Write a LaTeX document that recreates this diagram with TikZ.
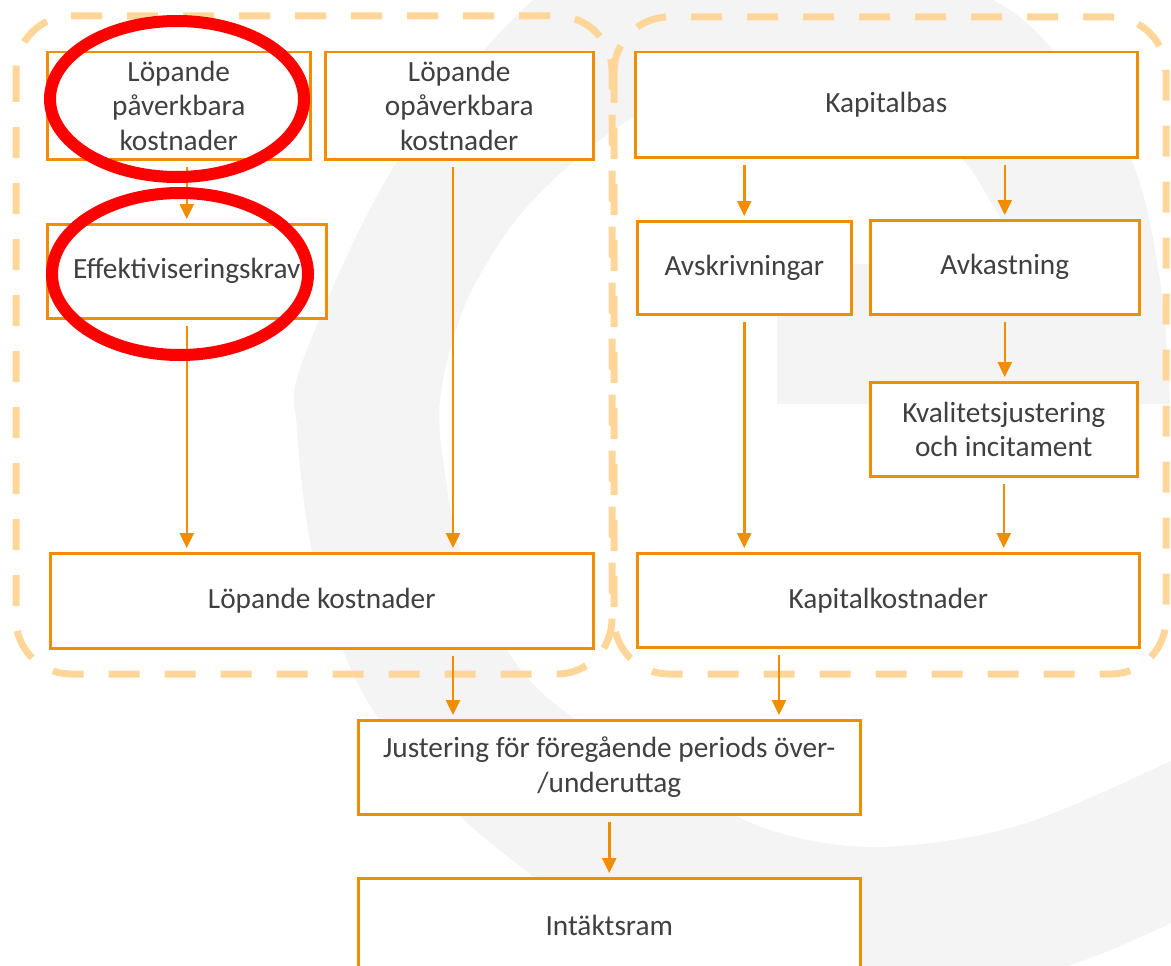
\documentclass[tikz,border=0pt]{standalone}
\usepackage{fontspec}
\setmainfont{Carlito}
\usetikzlibrary{arrows.meta,calc}
\definecolor{boxorange}{HTML}{F28C00}
\definecolor{dashorange}{HTML}{FFD699}
\definecolor{textgrey}{HTML}{404040}
\definecolor{markgrey}{HTML}{F4F4F4}

\begin{document}
\begin{tikzpicture}[x=1pt,y=-1pt,
  box/.style={draw=boxorange,line width=2.5pt,fill=white,text=textgrey,
    font=\fontsize{29.3}{34.5}\selectfont,align=center,anchor=north west,inner sep=1pt},
  flow/.style={draw=boxorange,line width=2.5pt,-{Triangle[width=14pt,length=15pt]},
    shorten <=6pt,shorten >=4pt},
  group/.style={draw=dashorange,line width=7pt,dash pattern=on 31pt off 25pt,rounded corners=55pt},
  redring/.style={draw=red,line width=12pt}]

\useasboundingbox (0,0) rectangle (1171,966);
\clip (0,0) rectangle (1171,966);

% watermark in the background:
\fill[markgrey] (1200,404) -- (777,404) -- (777,264)
  -- plot[smooth,tension=0.55] coordinates {(1035,264) (1000,217) (960,157) (880,100) (780,78)
     (680,95) (600,140) (520,215) (465,305) (440,400) (446,480) (462,555) (509,653) (559,707)
     (670,780) (770,830) (877,847) (1017,826) (1171,761) (1220,735)}
  -- (1230,900)
  -- plot[smooth,tension=0.55] coordinates {(1171,923) (1067,966) (900,1005) (720,985) (600,935)
     (537,880) (459,815) (383,725) (344,653) (312,552) (297,430) (303,360) (395,165) (533,0)
     (640,-50) (760,-65) (880,-45) (993,0) (1053,50) (1130,157) (1160,280) (1170,404)}
  -- cycle;

% groups:
\draw[group] (16,16) rectangle (612,674);
\draw[group] (614,17) rectangle (1166,674);

% boxes:
\node[box,minimum width=263pt,minimum height=107pt] (pav) at (46,51) {Löpande\\påverkbara\\kostnader};
\node[box,minimum width=268pt,minimum height=107pt] (opa) at (324,51) {Löpande\\opåverkbara\\kostnader};
\node[box,minimum width=279pt,minimum height=94pt] (eff) at (46,223) {Effektiviseringskrav};
\node[box,minimum width=543pt,minimum height=95pt] (lk) at (49,552) {Löpande kostnader};
\node[box,minimum width=502pt,minimum height=105pt] (kap) at (634,51) {Kapitalbas};
\node[box,minimum width=214pt,minimum height=93pt] (avs) at (636,220) {Avskrivningar};
\node[box,minimum width=269pt,minimum height=94pt] (avk) at (869,219) {Avkastning};
\node[box,minimum width=267pt,minimum height=94pt] (kval) at (869,381) {Kvalitetsjustering\\och incitament};
\node[box,minimum width=502pt,minimum height=94pt] (kk) at (636,552) {Kapitalkostnader};
\node[box,minimum width=502pt,minimum height=94pt] (just) at (357,719) {Justering för föregående periods över-\\/underuttag};
\node[box,minimum width=502pt,minimum height=94pt] (int) at (357,877) {Intäktsram};

\coordinate (lkout) at (453,0);
\coordinate (kkout) at (779,0);

% arrows:
\draw[flow] (pav.south -| eff.north) -- (eff.north);
\draw[flow] (eff.south) -- (eff.south |- lk.north);
\draw[flow] (opa.south -| lkout) -- (lkout |- lk.north);
\draw[flow] (kap.south -| avs.north) -- (avs.north);
\draw[flow] (kap.south -| avk.north) -- (avk.north);
\draw[flow] (avs.south) -- (avs.south |- kk.north);
\draw[flow] (avk.south) -- (avk.south |- kval.north);
\draw[flow] (kval.south) -- (kval.south |- kk.north);
\draw[flow] (lk.south -| lkout) -- (lkout |- just.north);
\draw[flow] (kk.south -| kkout) -- (kkout |- just.north);
\draw[flow] (just.south) -- (just.south |- int.north);

% red rings:
\draw[redring] (177,99) ellipse [x radius=127pt,y radius=78pt];
\draw[redring] (180,274) ellipse [x radius=128pt,y radius=81pt];

\end{tikzpicture}
\end{document}
